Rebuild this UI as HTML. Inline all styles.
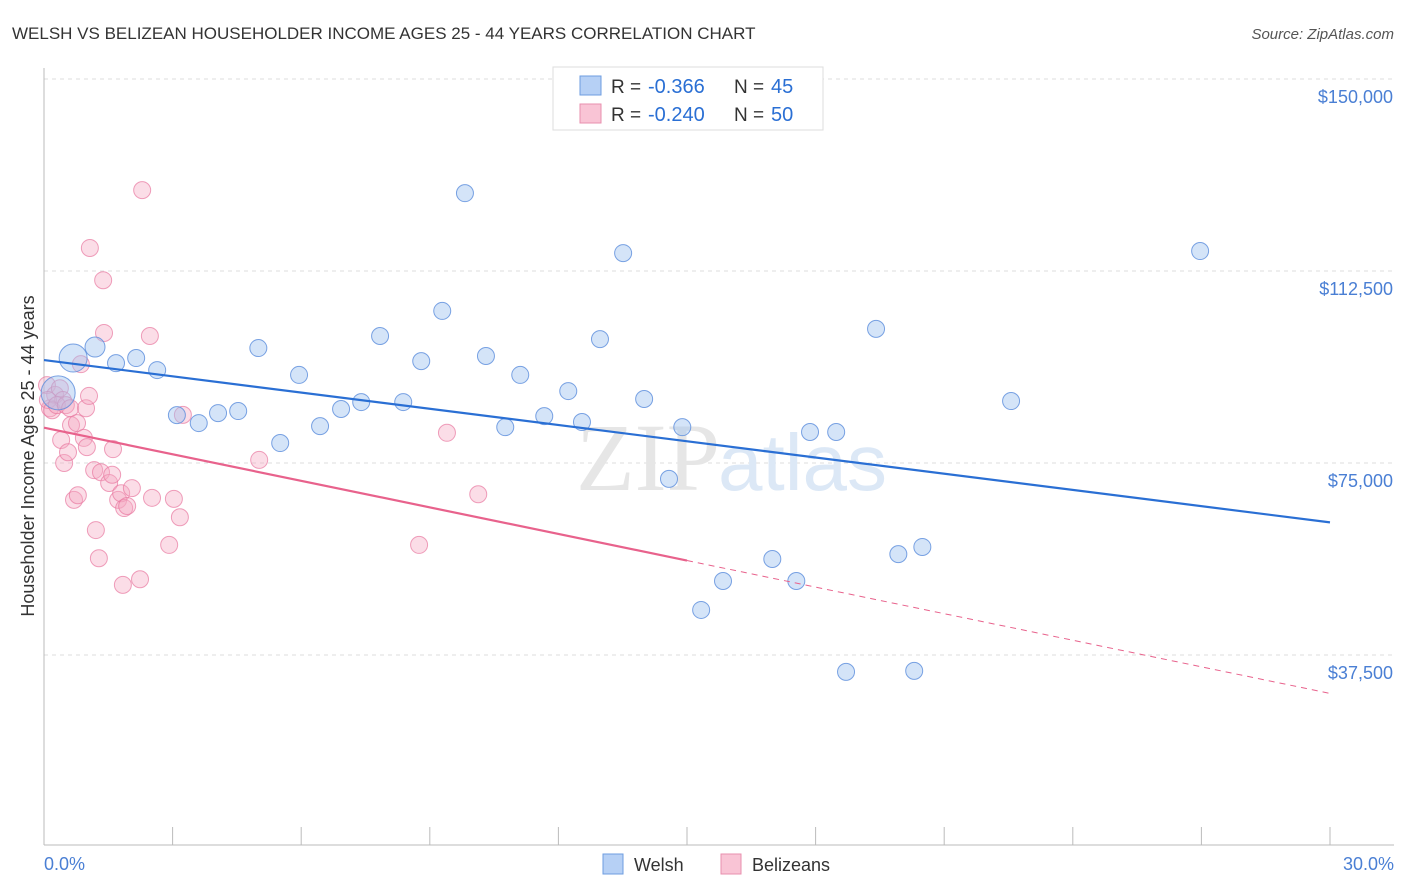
<!DOCTYPE html>
<html><head><meta charset="utf-8"><style>
body{margin:0;background:#fff;font-family:"Liberation Sans",sans-serif}
svg{display:block}
</style></head><body>
<svg id="c" width="1406" height="892" xmlns="http://www.w3.org/2000/svg">
<text x="12" y="39" font-size="17" fill="#333">WELSH VS BELIZEAN HOUSEHOLDER INCOME AGES 25 - 44 YEARS CORRELATION CHART</text>
<text x="1394" y="39" font-size="15" fill="#555" font-style="italic" text-anchor="end">Source: ZipAtlas.com</text>
<g id="grid"></g>
<text x="720" y="490" font-size="96" fill="#e6e6e6" text-anchor="end" font-family="Liberation Serif,serif">ZIP</text>
<text x="718" y="490" font-size="80" fill="#dce8f6">atlas</text>
<g id="pts"></g>
<g id="lines"></g>
<text transform="translate(34,456) rotate(-90)" font-size="18" fill="#333" text-anchor="middle">Householder Income Ages 25 - 44 years</text>
<text x="44" y="870" font-size="18" fill="#4a7fd4">0.0%</text>
<text x="1394" y="870" font-size="18" fill="#4a7fd4" text-anchor="end">30.0%</text>
<g>
<rect x="553" y="67" width="270" height="63" fill="#fff" stroke="#ddd"/>
<rect x="580" y="76" width="21" height="19" fill="#b6d0f5" stroke="#6e9de0"/>
<rect x="580" y="104" width="21" height="19" fill="#f9c4d5" stroke="#e88fae"/>
<text x="611" y="93" font-size="19" fill="#333">R = <tspan x="648" fill="#2a6fd4" font-size="20">-0.366</tspan><tspan x="734">N = </tspan><tspan x="771" fill="#2a6fd4" font-size="20">45</tspan></text>
<text x="611" y="121" font-size="19" fill="#333">R = <tspan x="648" fill="#2a6fd4" font-size="20">-0.240</tspan><tspan x="734">N = </tspan><tspan x="771" fill="#2a6fd4" font-size="20">50</tspan></text>
</g>
<g>
<rect x="603" y="854" width="20" height="20" fill="#b6d0f5" stroke="#6e9de0"/>
<text x="634" y="871" font-size="18" fill="#333">Welsh</text>
<rect x="721" y="854" width="20" height="20" fill="#f9c4d5" stroke="#e88fae"/>
<text x="752" y="871" font-size="18" fill="#333">Belizeans</text>
</g>
</svg>
<script>
const yTicks=[150000,112500,75000,37500];
const yTickLabels=["$150,000","$112,500","$75,000","$37,500"];
const welshX=[0.68,1.19,0.33,1.68,2.15,2.64,3.10,3.61,4.06,4.53,5.00,5.51,5.95,6.44,6.93,7.40,7.84,8.38,8.80,9.29,9.82,10.31,10.76,11.11,11.67,12.23,12.55,12.97,13.51,14.00,14.58,14.89,15.33,15.84,16.99,17.55,17.87,18.48,18.71,19.41,19.93,20.30,20.49,22.56,26.97];
const welshY=[95500,97650,88700,94500,95500,93150,84350,82800,84750,85150,97450,78900,92200,82200,85550,86900,99800,86900,94900,104700,127700,95900,82000,92200,84150,89050,83000,99200,116000,87500,71900,82000,46300,51950,56250,51950,81050,81050,34200,101200,57200,34400,58600,87100,116400];
const belizeX=[0.07,0.14,0.26,0.37,0.44,0.09,0.19,0.30,0.51,0.61,0.40,0.47,0.56,0.63,0.70,0.77,0.79,0.86,0.93,0.98,1.00,1.05,1.07,1.17,1.21,1.28,1.33,1.38,1.40,1.52,1.59,1.61,1.73,1.80,1.84,1.87,1.94,2.05,2.24,2.29,2.47,2.52,2.92,3.03,3.17,3.24,5.02,8.75,9.40,10.13];
const belizeY=[90200,85700,88300,89600,87300,87300,85300,86300,86300,85700,79500,75000,77100,82400,67800,82800,68700,94300,79900,85700,78100,88100,117000,73600,61900,56400,73200,110700,100400,71100,72700,77700,67800,69100,51200,66200,66600,70100,52300,128300,99800,68200,59000,68000,64400,84400,75600,59000,80900,68900];
const welshTrend=[95100,63400];
const belizeTrend=[81900,30000];
const NS='http://www.w3.org/2000/svg';
const X=v=>44+v/30*1286, Y=v=>847-v/37500*192;
function mk(t,a,p){const e=document.createElementNS(NS,t);for(const k in a)e.setAttribute(k,a[k]);p.appendChild(e);return e;}
const g=document.getElementById('grid');
yTicks.forEach((t,i)=>{
 const l=mk('line',{x1:44,x2:1394,y1:Y(t),y2:Y(t),stroke:'#ddd','stroke-dasharray':'4,4'},g);
 
 
 const tx=mk('text',{x:1393,y:Y(t)+24,'font-size':18,fill:'#4a7fd4','text-anchor':'end'},g);
 tx.textContent=yTickLabels[i];
 
 
});
const ax=mk('line',{x1:44,x2:1394,y1:845,y2:845,stroke:'#bbb'},g);


const ay=mk('line',{x1:44,x2:44,y1:68,y2:845,stroke:'#bbb'},g);


for(let i=1;i<=10;i++){const t=mk('line',{x1:X(i*3),x2:X(i*3),y1:827,y2:845,stroke:'#bbb'},g);
 
 }
const p=document.getElementById('pts');
belizeX.forEach((x,i)=>{const c=mk('circle',{cx:X(x),cy:Y(belizeY[i]),r:8.5,fill:'rgba(245,170,195,0.4)',stroke:'rgba(232,120,160,0.7)','stroke-width':1},p);
 
 });
welshX.forEach((x,i)=>{const r=i==0?14:i==2?17:i==1?10:8.5;const c=mk('circle',{cx:X(x),cy:Y(welshY[i]),r:r,fill:'rgba(160,195,240,0.45)',stroke:'rgba(90,140,220,0.8)','stroke-width':1},p);
 
 });
const L=document.getElementById('lines');
const wl=mk('line',{x1:X(0),y1:Y(welshTrend[0]),x2:X(30),y2:Y(welshTrend[1]),stroke:'#2a6fd4','stroke-width':2.2},L);


const bm=belizeTrend[0]+(belizeTrend[1]-belizeTrend[0])*0.5;
const bl=mk('line',{x1:X(0),y1:Y(belizeTrend[0]),x2:X(15),y2:Y(bm),stroke:'#e8628c','stroke-width':2.2},L);


const bd=mk('line',{x1:X(15),y1:Y(bm),x2:X(30),y2:Y(belizeTrend[1]),stroke:'#e8628c','stroke-width':1,'stroke-dasharray':'6,5'},L);


</script>
</body></html>
